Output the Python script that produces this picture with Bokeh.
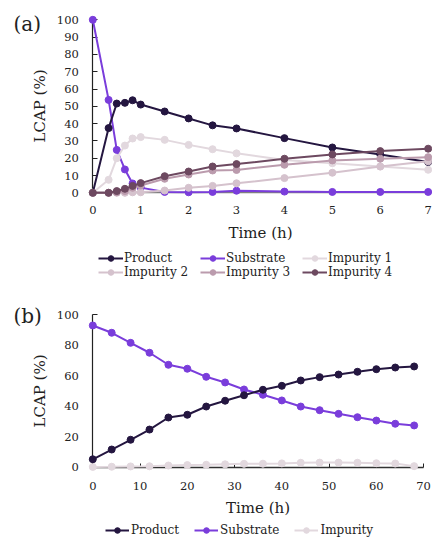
from bokeh.plotting import figure
from bokeh.models import Range1d, FixedTicker, Legend, LegendItem, Label
from bokeh.layouts import column
from bokeh.embed import file_html
from bokeh.resources import INLINE

# ---------------- data: panel (a) ----------------
time_a = [0, 0.33, 0.5, 0.67, 0.83, 1, 1.5, 2, 2.5, 3, 4, 5, 6, 7]
product_a = [0, 37.4, 51.6, 52, 53.5, 51, 47, 43, 39, 37.2, 31.6, 26.2, 22.2, 17.8]
substrate_a = [100, 53.7, 24.8, 13.5, 5.4, 3, 0.5, 0.3, 0.5, 1.2, 0.7, 0.5, 0.5, 0.5]
impurity1_a = [0, 7.5, 20, 27.3, 31.4, 32.2, 30.6, 27.7, 25.2, 22.8, 19, 17.1, 15.2, 13.3]
impurity2_a = [0, 0, 0, 0, 0.3, 0.3, 1.3, 2.9, 4, 5.5, 8.5, 11.6, 15.2, 18.2]
impurity3_a = [0, 0, 0.3, 1, 2.9, 4.2, 8.1, 10.6, 12.9, 13.2, 16.2, 18.7, 19.7, 20.6]
impurity4_a = [0, 0, 1, 2.3, 4, 5.6, 9.6, 12.3, 15.2, 16.6, 19.7, 22.2, 24.1, 25.5]
xticks_a = [0, 1, 2, 3, 4, 5, 6, 7]
yticks_a = [0, 10, 20, 30, 40, 50, 60, 70, 80, 90, 100]

# ---------------- data: panel (b) ----------------
time_b = [0, 4, 8, 12, 16, 20, 24, 28, 32, 36, 40, 44, 48, 52, 56, 60, 64, 68]
product_b = [5.2, 11.6, 18.0, 24.7, 32.6, 34.4, 39.8, 43.6, 47.2, 50.8, 53.4, 56.9,
             59.1, 60.8, 62.6, 64.3, 65.4, 66.1]
substrate_b = [93.0, 88.2, 81.6, 75.1, 67.2, 64.6, 59.3, 55.6, 51.0, 47.5, 43.8, 39.8,
               37.4, 35.0, 32.8, 30.6, 28.5, 27.4]
impurity_b = [0.2, 0.3, 0.5, 0.6, 1.1, 1.4, 1.6, 1.9, 2.2, 2.3, 2.5, 2.9, 3.0, 3.0,
              2.9, 2.6, 2.4, 0.7]
xticks_b = [0, 10, 20, 30, 40, 50, 60, 70]
yticks_b = [0, 20, 40, 60, 80, 100]

FONT = "DejaVu Serif"
TXT = "#222222"
C_PRODUCT = "#241640"
C_SUBSTRATE = "#7a3ddb"
C_IMP1 = "#e2d8de"
C_IMP2 = "#d5c2cd"
C_IMP3 = "#bb9bad"
C_IMP4 = "#6d4960"

W = 432
H_A = 290
H_B = 247


def base_fig(height, xr, yr):
    p = figure(width=W, height=height, x_range=Range1d(*xr), y_range=Range1d(*yr),
               output_backend="svg", toolbar_location=None, min_border=0,
               min_border_left=0, min_border_right=0, min_border_top=0,
               min_border_bottom=0)
    p.xgrid.visible = False
    p.ygrid.visible = False
    p.outline_line_color = None
    for ax in (p.xaxis[0], p.yaxis[0]):
        ax.fixed_location = 0
        ax.level = "underlay"
        ax.major_label_text_font = FONT
        ax.major_label_text_font_size = "11.5px"
        ax.major_label_text_color = TXT
        ax.axis_label_text_font = FONT
        ax.axis_label_text_font_size = "15px"
        ax.axis_label_text_font_style = "normal"
        ax.axis_label_text_color = TXT
        ax.major_tick_out = 0
        ax.minor_tick_out = 0
        ax.minor_tick_line_color = None
    p.xaxis.axis_label = "Time (h)"
    p.yaxis.axis_label = "LCAP (%)"
    p.yaxis.major_label_standoff = 14
    p.yaxis.axis_label_standoff = 5
    return p


def series(p, x, y, color):
    r1 = p.line(x, y, line_color=color, line_width=2)
    r2 = p.scatter(x, y, size=7, fill_color=color, line_color=color)
    return [r1, r2]


def make_legend(items, glyph_width, standoff, label_width, spacing, loc_x, loc_y):
    lg = Legend(items=items, orientation="horizontal", spacing=spacing)
    lg.label_text_font = FONT
    lg.label_text_font_size = "12px"
    lg.label_text_color = TXT
    lg.glyph_width = glyph_width
    lg.glyph_height = 14
    lg.label_standoff = standoff
    lg.label_height = 14
    lg.label_width = label_width
    lg.padding = 0
    lg.margin = 0
    lg.border_line_color = None
    lg.background_fill_alpha = 0
    lg.location = (loc_x, loc_y)
    return lg


# ---------------- panel (a) ----------------
pa = base_fig(H_A, (-1.9265, 7.0904), (-56.47, 111.16))
pa.xaxis.ticker = FixedTicker(ticks=xticks_a)
pa.xaxis.major_tick_line_color = None
pa.xaxis.major_tick_in = 0
pa.xaxis.axis_line_color = "#808080"
pa.xaxis.axis_line_width = 1.5
pa.xaxis.bounds = (0, 7)
pa.xaxis.major_label_standoff = 13
pa.xaxis.axis_label_standoff = 7
pa.yaxis.ticker = FixedTicker(ticks=yticks_a)
pa.yaxis.major_tick_in = 5
pa.yaxis.major_tick_line_color = TXT
pa.yaxis.axis_line_color = TXT
pa.yaxis.axis_line_width = 1.2
pa.yaxis.bounds = (0, 100)

r_sub = series(pa, time_a, substrate_a, C_SUBSTRATE)
r_prod = series(pa, time_a, product_a, C_PRODUCT)
r_i1 = series(pa, time_a, impurity1_a, C_IMP1)
r_i2 = series(pa, time_a, impurity2_a, C_IMP2)
r_i3 = series(pa, time_a, impurity3_a, C_IMP3)
r_i4 = series(pa, time_a, impurity4_a, C_IMP4)

lg_a1 = make_legend([
    LegendItem(label="Product", renderers=r_prod),
    LegendItem(label="Substrate", renderers=r_sub),
    LegendItem(label="Impurity 1", renderers=r_i1),
], 25, 1, 76, 0, 98, 25)
lg_a2 = make_legend([
    LegendItem(label="Impurity 2", renderers=r_i2),
    LegendItem(label="Impurity 3", renderers=r_i3),
    LegendItem(label="Impurity 4", renderers=r_i4),
], 25, 1, 76, 0, 98, 11)
pa.add_layout(lg_a1)
pa.add_layout(lg_a2)

pa.add_layout(Label(x=13, y=H_A - 23, x_units="screen", y_units="screen", text="(a)",
                    text_font=FONT, text_font_size="20px", text_color=TXT,
                    text_baseline="middle"))

# ---------------- panel (b) ----------------
pb = base_fig(H_B, (-19.53, 71.88), (-46.13, 115.94))
pb.xaxis.ticker = FixedTicker(ticks=xticks_b, minor_ticks=[10, 30, 50, 70])
pb.xaxis.major_tick_line_color = None
pb.xaxis.major_tick_in = 0
pb.xaxis.minor_tick_line_color = TXT
pb.xaxis.minor_tick_in = 4
pb.xaxis.axis_line_color = "#333333"
pb.xaxis.axis_line_width = 1.5
pb.xaxis.bounds = (0, 70)
pb.xaxis.major_label_standoff = 15
pb.xaxis.axis_label_standoff = 5
pb.yaxis.ticker = FixedTicker(ticks=yticks_b, minor_ticks=[100])
pb.yaxis.major_tick_line_color = None
pb.yaxis.major_tick_in = 0
pb.yaxis.minor_tick_line_color = TXT
pb.yaxis.minor_tick_in = 5
pb.yaxis.axis_line_color = TXT
pb.yaxis.axis_line_width = 1.2
pb.yaxis.bounds = (0, 100)

rb_imp = series(pb, time_b, impurity_b, C_IMP1)
rb_sub = series(pb, time_b, substrate_b, C_SUBSTRATE)
rb_prod = series(pb, time_b, product_b, C_PRODUCT)

lg_b = make_legend([
    LegendItem(label="Product", renderers=rb_prod),
    LegendItem(label="Substrate", renderers=rb_sub),
    LegendItem(label="Impurity", renderers=rb_imp),
], 24, 2, 0, 15, 105, 0)
pb.add_layout(lg_b)

pb.add_layout(Label(x=13, y=H_B - 25, x_units="screen", y_units="screen", text="(b)",
                    text_font=FONT, text_font_size="20px", text_color=TXT,
                    text_baseline="middle"))

layout = column(pa, pb, spacing=0)
open("out.html", "w").write(file_html(layout, INLINE))
